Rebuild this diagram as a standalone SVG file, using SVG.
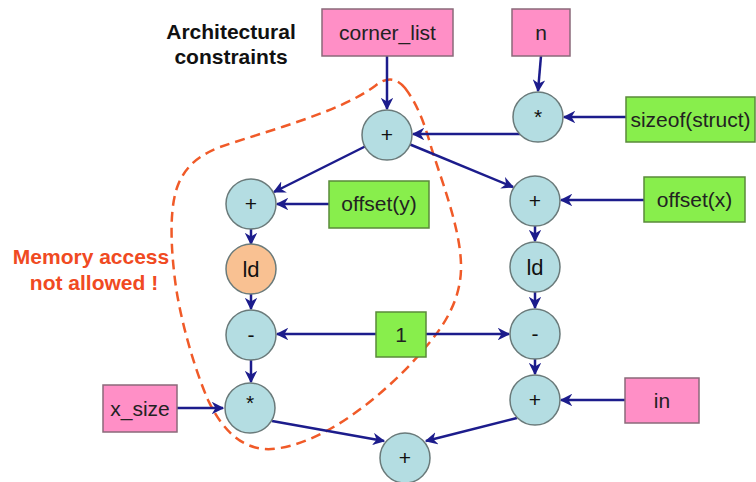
<svg xmlns="http://www.w3.org/2000/svg" width="756" height="482" viewBox="0 0 756 482">
<defs>
<style>
.pink{fill:#ff8fc6;stroke:#8a6a7a;stroke-width:1.5}
.green{fill:#88ee4c;stroke:#5a8a3a;stroke-width:1.5}
.op{fill:#b4dde2;stroke:#6a7a7a;stroke-width:1.5}
.ld{fill:#f9c192;stroke:#6a7a7a;stroke-width:1.5}
.t{font-family:"Liberation Sans",Arial,sans-serif;font-size:21px;fill:#222;text-anchor:middle}
.o{font-family:"Liberation Sans",Arial,sans-serif;font-size:21px;fill:#111;text-anchor:middle}
.note{font-family:"Liberation Sans",Arial,sans-serif;font-size:21px;font-weight:bold;text-anchor:middle}
.e{stroke:#1c1c8c;stroke-width:2.5;fill:none;marker-end:url(#ah)}
</style>
<marker id="ah" viewBox="0 0 10 10" refX="9" refY="5" markerWidth="5" markerHeight="5" orient="auto" markerUnits="strokeWidth">
<path d="M0,0 L10,5 L0,10 L3,5 Z" fill="#1c1c8c"/>
</marker>
</defs>
<rect width="756" height="482" fill="#fff"/>

<g id="boundary">
<path d="M 405 88 C 418 105, 425 125, 432 150 C 445 190, 462 235, 461 270 C 460 300, 445 325, 425 348 C 390 390, 330 440, 280 448 C 245 455, 222 430, 208 400 C 195 370, 180 320, 175 280 C 170 240, 170 205, 178 185 C 186 165, 200 155, 220 147 C 270 130, 340 112, 375 86 C 385 78, 395 76, 405 88 Z" fill="none" stroke="#f05a28" stroke-width="2.5" stroke-dasharray="10 6"/>
</g>

<g id="labels">
<text class="note" x="231" y="39" fill="#111">Architectural</text>
<text class="note" x="231" y="64" fill="#111">constraints</text>
<text class="note" x="91" y="264" fill="#f04a22">Memory access</text>
<text class="note" x="94" y="290" fill="#f04a22">not allowed !</text>
</g>

<g id="connectors">
<line class="e" x1="387" y1="56" x2="387" y2="109"/>
<line class="e" x1="541" y1="56" x2="538" y2="91"/>
<line class="e" x1="626" y1="117" x2="564" y2="117"/>
<line class="e" x1="520" y1="134" x2="413" y2="134"/>
<line class="e" x1="366" y1="146" x2="274" y2="192"/>
<line class="e" x1="409" y1="144" x2="513" y2="187"/>
<line class="e" x1="329" y1="204" x2="277" y2="204"/>
<line class="e" x1="644" y1="200" x2="561" y2="200"/>
<line class="e" x1="251" y1="229" x2="251" y2="244"/>
<line class="e" x1="251" y1="294" x2="251" y2="309"/>
<line class="e" x1="376" y1="334" x2="277" y2="334"/>
<line class="e" x1="426" y1="334" x2="509" y2="334"/>
<line class="e" x1="251" y1="360" x2="251" y2="382"/>
<line class="e" x1="177" y1="408" x2="223" y2="408"/>
<line class="e" x1="272" y1="421" x2="384" y2="441"/>
<line class="e" x1="535" y1="226" x2="535" y2="241"/>
<line class="e" x1="535" y1="292" x2="535" y2="308"/>
<line class="e" x1="535" y1="359" x2="535" y2="374"/>
<line class="e" x1="625" y1="400" x2="561" y2="400"/>
<line class="e" x1="517" y1="418" x2="426" y2="441"/>
</g>

<g id="corner_list"><rect class="pink" x="322" y="9" width="131" height="47"/><text class="t" x="387.5" y="40">corner_list</text></g>
<g id="n"><rect class="pink" x="512" y="9" width="58" height="47"/><text class="t" x="541" y="40">n</text></g>
<g id="sizeof"><rect class="green" x="626" y="97" width="129" height="45"/><text class="t" x="690.5" y="127">sizeof(struct)</text></g>
<g id="offset_x"><rect class="green" x="644" y="177" width="101" height="45"/><text class="t" x="694.5" y="207">offset(x)</text></g>
<g id="offset_y"><rect class="green" x="329" y="181" width="100" height="47"/><text class="t" x="379" y="211">offset(y)</text></g>
<g id="one"><rect class="green" x="376" y="312" width="50" height="45"/><text class="t" x="401" y="342">1</text></g>
<g id="x_size"><rect class="pink" x="103" y="385" width="74" height="47"/><text class="t" x="140" y="416">x_size</text></g>
<g id="in"><rect class="pink" x="625" y="378" width="74" height="45"/><text class="t" x="662" y="408">in</text></g>

<g id="add_top"><circle class="op" cx="387" cy="135" r="25"/><text class="o" x="387" y="142">+</text></g>
<g id="mul_n"><circle class="op" cx="538" cy="117" r="25"/><text class="o" x="538" y="124">*</text></g>
<g id="add_y"><circle class="op" cx="251" cy="204" r="25"/><text class="o" x="251" y="211">+</text></g>
<g id="ld_y"><circle class="ld" cx="251" cy="269" r="25"/><text class="o" x="251" y="277" style="font-size:22px">ld</text></g>
<g id="sub_y"><circle class="op" cx="251" cy="335" r="25"/><text class="o" x="251" y="342">-</text></g>
<g id="mul_y"><circle class="op" cx="250" cy="408" r="25"/><text class="o" x="250" y="410">*</text></g>
<g id="add_x"><circle class="op" cx="535" cy="201" r="25"/><text class="o" x="535" y="208">+</text></g>
<g id="ld_x"><circle class="op" cx="535" cy="267" r="25"/><text class="o" x="535" y="275" style="font-size:22px">ld</text></g>
<g id="sub_x"><circle class="op" cx="535" cy="334" r="25"/><text class="o" x="535" y="341">-</text></g>
<g id="add_in"><circle class="op" cx="535" cy="400" r="25"/><text class="o" x="535" y="407">+</text></g>
<g id="add_out"><circle class="op" cx="405" cy="458" r="25"/><text class="o" x="405" y="465">+</text></g>
</svg>
